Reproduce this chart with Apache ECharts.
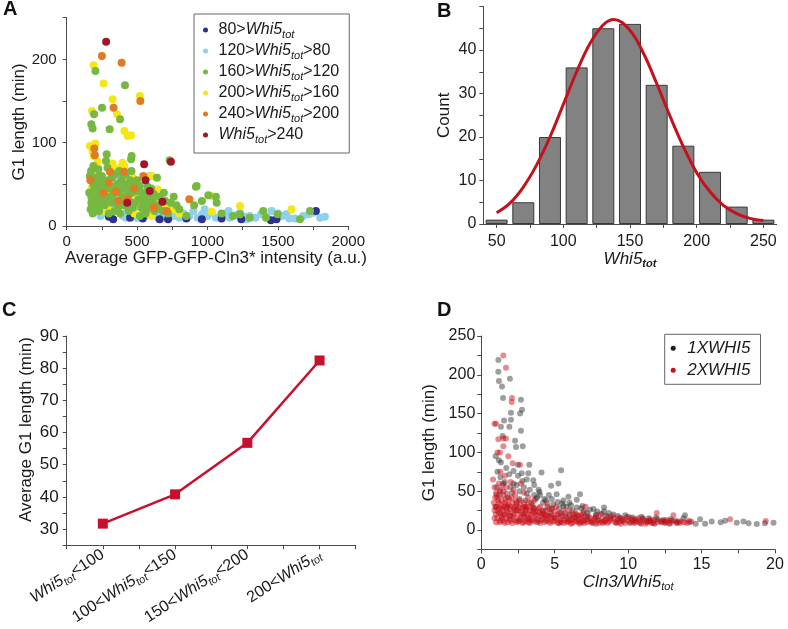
<!DOCTYPE html>
<html><head><meta charset="utf-8">
<script src="https://cdn.jsdelivr.net/npm/echarts@6/dist/echarts.min.js"></script>
<style>html,body{margin:0;padding:0;background:#fff}#c{width:788px;height:629px}</style>
</head><body><div id="c"></div>
<script>
// ---------- Panel A data: [intensity, G1 length] ----------
const aNames = ['80>Whi5_tot','120>Whi5_tot>80','160>Whi5_tot>120','200>Whi5_tot>160','240>Whi5_tot>200','Whi5_tot>240'];
const aDarkBlue = [[300,11],[330,8],[450,10],[540,9],[660,8],[720,8],[850,9],[960,8],[1100,9],[1240,8],[1450,7],[1490,8],[1770,18]];
const aLightBlue = [[190,60],[215,62],[230,55],[260,48],[300,45],[340,40],[360,55],[380,52],[200,40],[220,30],[250,22],[280,15],[310,12],[350,18],[400,12],[430,20],[460,15],[500,10],[520,28],[560,12],[590,60],[600,20],[620,15],[650,10],[690,14],[720,18],[760,12],[800,10],[830,15],[870,12],[900,18],[930,10],[960,14],[1000,12],[1030,16],[1060,10],[1100,12],[1130,15],[1160,10],[1200,13],[1230,16],[1260,11],[1300,12],[1340,10],[1380,14],[1420,11],[1455,18],[1500,15],[1530,12],[1580,9],[1621,9],[1680,12],[1720,14],[1750,16],[1800,10],[1834,11],[240,12],[330,25],[420,10],[480,22],[700,10],[980,20],[1150,18],[1280,8],[1560,14],[180,25],[210,18],[260,35],[290,28],[320,20],[370,30],[410,25],[450,38],[500,30],[540,20],[580,25],[620,30],[660,20],[740,25],[780,15]];
const aGreen = [[204,186],[414,169],[251,142],[194,134],[379,128],[175,122],[184,117],[305,116],[284,86],[461,84],[457,80],[279,78],[173,66],[374,66],[641,58],[232,51],[575,47],[918,47],[731,79],[165,60],[190,72],[210,58],[225,68],[250,60],[270,52],[290,70],[320,58],[345,62],[360,50],[390,55],[420,62],[440,48],[460,66],[500,55],[520,48],[540,40],[600,45],[620,38],[660,35],[700,30],[740,28],[780,25],[160,40],[175,35],[190,50],[205,25],[215,42],[235,30],[255,38],[270,25],[285,45],[305,35],[320,28],[335,45],[355,30],[370,40],[395,35],[410,25],[425,50],[445,30],[465,40],[485,28],[505,42],[530,22],[555,35],[570,20],[590,28],[625,18],[650,25],[680,18],[720,15],[170,20],[185,15],[200,30],[230,18],[260,28],[300,15],[340,18],[380,15],[440,18],[520,12],[560,15],[600,28],[800,20],[850,12],[905,25],[923,48],[960,30],[1006,37],[1065,28],[1100,15],[1180,12],[1231,14],[1300,10],[1396,18],[1415,10],[1498,14],[1657,8],[1728,18],[1060,35],[180,55],[195,45],[210,35],[225,22],[240,48],[265,42],[280,32],[295,55],[310,45],[330,38],[350,48],[365,22],[385,45],[400,60],[415,30],[430,42],[450,55],[470,22],[490,50],[510,32],[545,28],[580,38],[610,32],[640,22],[690,40],[760,35],[175,28],[230,60]];
const aYellow = [[191,193],[262,171],[326,152],[520,156],[180,138],[357,134],[409,114],[433,108],[457,109],[165,96],[203,99],[184,89],[191,84],[220,77],[326,75],[397,76],[409,72],[603,60],[243,47],[279,43],[646,44],[298,32],[200,65],[175,45],[230,35],[180,28],[350,68],[380,70],[420,40],[470,58],[500,35],[560,30],[520,25],[640,35],[700,22],[760,20],[800,15],[1029,36],[1029,17],[1231,24],[1597,20],[300,20],[250,18],[480,15],[600,12],[380,25]];
const aOrange = [[250,204],[390,196],[523,150],[333,142],[196,93],[168,55],[300,52],[307,65],[409,65],[544,60],[350,41],[480,45],[871,32],[369,30],[433,33],[200,85],[260,40],[620,22],[710,18]];
const aRed = [[280,221],[550,74],[740,77],[560,55],[590,42],[430,28],[680,29]];

// ---------- Panel B data: histogram of Whi5tot ----------
const bBinCenters = [50,70,90,110,130,150,170,190,210,230,250];
const bCounts = [1,5,20,36,45,46,32,18,12,4,1];
const bFitX = [50,60,70,80,90,100,110,120,130,138,150,160,170,180,190,200,210,220,230,240,250];
const bFitY = [2.6,4.8,8.5,13.6,20,27.5,35,41.5,45.8,47,44.5,39.3,32.3,24.8,17.8,11.8,7.4,4.3,2.4,1.3,0.8];

// ---------- Panel C data ----------
const cCategories = ['Whi5_tot<100','100<Whi5_tot<150','150<Whi5_tot<200','200<Whi5_tot'];
const cValues = [31.7,40.8,56.8,82.4];

// ---------- Panel D data: [Cln3/Whi5tot, G1 length] ----------
const dNames = ['1XWHI5','2XWHI5'];
const d1X = [[1.16,219],[1.16,204],[1.2,192],[1.95,195],[1.41,185],[1.48,170],[2.7,168],[2.77,155],[2.02,151],[2.64,150],[1.55,141],[2.02,142],[1.34,133],[1.91,133],[2.7,128],[1.45,121],[2.3,115],[2.36,107],[2.82,108],[0.98,95],[1.34,87],[3.27,84],[4.1,74],[5.43,77],[2.75,73],[3.2,73],[3.09,65],[3.54,64],[4.75,57],[5.25,60],[3.9,52],[3.96,49],[4.6,45],[5.13,46],[5.93,43],[6.72,46],[6.5,39],[5.59,38],[8.36,29],[7.63,27],[8.36,24],
[1.1,75],[1.3,68],[1.6,62],[1.9,72],[2.2,76],[2.5,70],[2.4,58],[2.9,55],[3.3,52],[3.6,45],[1.05,55],[1.25,45],[1.5,50],[1.8,42],[2.1,48],[2.6,40],[3.0,38],[3.4,35],[3.8,42],[4.2,35],[4.5,30],[4.9,33],[5.3,28],[5.8,30],[6.2,25],[6.8,28],[7.2,22],[7.8,20],[8.5,18],[9.0,20],[9.5,15],[10.0,17],[10.5,14],[11.0,15],[11.5,12],[12.0,14],[12.5,11],[13.0,12],[13.87,19],[13.76,15],[14.9,14],[15.69,11],[15.24,8],[16.3,10],[16.6,12],[17.4,9.5],[17.85,11],[18.2,8.6],[18.76,7.7],[19.32,8.6],[19.9,9.5],
[1.0,30],[1.2,22],[1.4,15],[1.7,28],[2.0,18],[2.3,25],[2.6,12],[2.9,20],[3.2,14],[3.5,24],[3.8,10],[4.1,18],[4.4,12],[4.7,22],[5.0,15],[5.4,10],[5.7,18],[6.0,12],[6.4,16],[6.8,10],[7.2,14],[7.6,9],[8.0,13],[8.4,11],[8.8,15],[9.2,9],[9.6,12],[10.2,10],[10.8,9],[11.3,11],[11.8,8],[12.3,10],[12.8,8],[13.3,9],[14.2,10],[14.6,8],[2.2,60],[2.8,63],[3.6,58],[4.3,40],[5.5,34],[6.1,32],[7.0,24],[1.7,80],[2.5,84],[1.2,90],
[1.5,60],[2.0,55],[2.6,50],[3.1,47],[3.7,40],[4.0,45],[4.4,38],[4.8,40],[5.2,36],[5.6,31],[6.0,35],[6.5,29],[6.9,31],[7.4,26],[7.9,24],[8.2,21],[8.7,22],[9.3,18],[9.8,19],[10.3,16],[10.9,17],[11.4,15],[11.9,16],[12.4,13],[12.9,14],[13.4,11],[2.4,35],[3.0,30],[3.6,28],[4.2,25],[4.8,27],[5.4,22],[6.0,20],[6.6,18],[7.2,17],[7.8,16]];
const d2X = [[1.5,225],[1.68,209],[2.09,170],[2.07,165],[1.0,137],[1.16,117],[1.5,118],[1.68,118],[1.5,108],[1.27,100],[1.84,95],[2.14,86],[2.63,84],[0.9,137],[1.1,100],
[0.8,65],[0.9,55],[1.0,48],[1.1,42],[1.2,60],[1.3,52],[1.4,38],[1.5,45],[1.6,35],[1.7,55],[1.8,30],[1.9,40],[2.0,62],[2.1,35],[2.2,28],[2.3,45],[2.4,32],[2.5,25],[2.6,38],[2.7,60],[2.8,28],[2.9,35],[3.0,22],[3.1,30],[3.2,42],[3.3,25],[3.4,20],[3.5,32],[3.7,18],[3.9,28],[4.0,22],[4.2,15],[4.4,25],[4.6,18],[4.8,28],[5.0,12],[5.2,20],[5.4,15],[5.6,25],[5.8,10],[6.0,18],[6.2,14],[6.4,22],[6.6,10],[6.8,16],[7.0,12],[7.1,30],[7.3,18],[7.5,10],[7.7,15],[7.9,12],[8.1,20],[8.3,9],[8.5,14],[8.7,11],[8.9,18],[9.1,10],[9.3,14],[9.5,8],[9.7,12],[9.9,16],[10.1,9],[10.3,13],[10.5,10],[10.7,15],[10.9,8],[11.1,12],[11.3,10],[11.5,14],[11.7,9],[11.95,22],[12.2,11],[12.5,9],[12.8,12],[13.08,19],[13.3,10],[13.6,11],[14.0,9],[14.3,11],[16.94,14],[19.37,11.6],
[0.85,35],[0.9,25],[0.95,42],[1.0,20],[1.05,30],[1.1,15],[1.15,38],[1.2,28],[1.25,10],[1.3,22],[1.35,32],[1.4,18],[1.45,26],[1.5,12],[1.55,30],[1.6,20],[1.65,40],[1.7,15],[1.75,24],[1.8,10],[1.85,33],[1.9,18],[1.95,27],[2.0,12],[2.1,22],[2.2,16],[2.3,30],[2.4,10],[2.5,20],[2.6,14],[2.7,24],[2.8,9],[2.9,17],[3.0,12],[3.1,26],[3.2,10],[3.3,16],[3.4,12],[3.6,22],[3.8,14],[4.0,9],[4.3,20],[4.6,11],[4.9,16],[5.3,9],[5.7,13],[6.1,8],[6.5,12],[7.0,9],[7.4,11],[7.8,8],[8.2,10],[1.3,75],[1.6,70],[2.2,52],[2.9,48],[3.6,38],[4.5,34],[5.1,30],[6.3,20],[6.9,22],[8.6,17],[9.4,16],[10.4,12],[11.6,11],[12.6,13],
[1.0,10],[1.1,25],[1.2,35],[1.3,12],[1.4,28],[1.5,20],[1.6,9],[1.7,33],[1.8,22],[1.9,14],[2.0,30],[2.1,9],[2.2,20],[2.3,13],[2.4,26],[2.5,11],[2.6,29],[2.7,16],[2.8,21],[2.9,10],[3.0,27],[3.1,15],[3.2,20],[3.3,9],[3.4,30],[3.5,14],[3.6,11],[3.7,25],[3.8,19],[3.9,12],[4.0,30],[4.1,13],[4.2,24],[4.3,10],[4.4,18],[4.5,14],[4.6,27],[4.7,9],[4.8,20],[4.9,11],[5.0,24],[5.1,16],[5.2,9],[5.3,21],[5.4,12],[5.5,18],[5.6,9],[5.7,22],[5.8,15],[5.9,11],[6.0,25],[6.1,14],[6.2,9],[6.3,17],[6.4,11],[6.5,20],[6.6,14],[6.7,8],[6.8,19],[6.9,12],[7.0,17],[7.2,10],[7.4,15],[7.6,12],[7.8,18],[8.0,9],[8.2,14],[8.4,12],[8.6,9],[8.8,13],[9.0,15],[9.2,11],[9.4,10],[9.6,14],[9.8,9],[10.0,12],[10.2,15],[10.4,9],[10.6,12],[10.8,11],[11.0,14],[11.2,8],[11.4,12],[11.6,9],[11.8,13],[12.0,10],[12.3,12],[12.6,10],[12.9,9],[13.2,12],[13.5,9],[13.8,10],[14.1,12],[0.9,15],[0.95,30],[1.05,45],[1.25,50],[1.45,58],[1.75,47],[2.05,42],[2.35,38],[2.65,33],[2.95,30],[3.25,35],[3.55,28],[3.85,24],[4.15,21],[4.45,19],[4.75,16]];

// ---------- helpers ----------
const FONT = '"Liberation Sans", Arial, Helvetica, sans-serif';
const TXT = '#1a1a1a', AX = '#4a4a4a';
function richSet(F) {
  const L = Math.round(F * 1.25);
  const base = {fontSize: F, fontFamily: FONT, color: TXT, lineHeight: L};
  return {
    n: Object.assign({}, base),
    i: Object.assign({}, base, {fontStyle: 'italic'}),
    s: {fontSize: Math.round(F * 0.66), fontFamily: FONT, color: TXT, fontStyle: 'italic', lineHeight: Math.round(F * 0.5), verticalAlign: 'bottom'},
    sb: {fontSize: Math.round(F * 0.66), fontFamily: FONT, color: TXT, fontStyle: 'italic', fontWeight: 'bold', lineHeight: Math.round(F * 0.5), verticalAlign: 'bottom'}
  };
}
function toRich(str, subKey) {
  const parts = str.split('Whi5_tot');
  const out = [];
  parts.forEach((p, k) => {
    if (p) out.push('{n|' + p + '}');
    if (k < parts.length - 1) out.push('{i|Whi5}{' + (subKey || 's') + '|tot}');
  });
  return out.join('');
}
function axisCommon(F) {
  return {
    axisLine: {show: true, onZero: false, lineStyle: {color: AX, width: 1}},
    axisTick: {show: true, length: 4, lineStyle: {color: AX}},
    splitLine: {show: false},
    axisLabel: {fontSize: F, fontFamily: FONT, color: TXT}
  };
}
function mk(base, extra) {
  const o = JSON.parse(JSON.stringify(base));
  for (const k in extra) {
    if (typeof extra[k] === 'object' && !Array.isArray(extra[k]) && o[k]) Object.assign(o[k], extra[k]);
    else o[k] = extra[k];
  }
  return o;
}

const aColors = ['#2e3192','#8fd0ea','#77b843','#f4e717','#e07b24','#a3162a'];
const aData = [aDarkBlue, aLightBlue, aGreen, aYellow, aOrange, aRed];
const aDrawOrder = [1, 0, 3, 2, 4, 5];

const chart = echarts.init(document.getElementById('c'), null, {renderer: 'canvas'});

const xAxes = [], yAxes = [];
// A
xAxes.push(mk(axisCommon(15), {gridIndex: 0, type: 'value', min: 0, max: 2000, interval: 250,
  name: 'Average GFP-GFP-Cln3* intensity (a.u.)', nameLocation: 'middle', nameGap: 20,
  nameTextStyle: {fontSize: 17, fontFamily: FONT, color: TXT, padding: [0, 0, 0, 17]},
  axisLabel: {margin: 8, formatter: v => (v % 500 === 0 ? String(v) : '')}}));
yAxes.push(mk(axisCommon(15), {gridIndex: 0, type: 'value', min: 0, max: 250, interval: 50,
  name: 'G1 length (min)', nameLocation: 'middle', nameGap: 38,
  nameTextStyle: {fontSize: 17, fontFamily: FONT, color: TXT},
  axisLabel: {margin: 10, formatter: v => (v % 100 === 0 ? String(v) : '')}}));
// B
xAxes.push(mk(axisCommon(16), {gridIndex: 1, type: 'value', min: 40, max: 260,
  name: '{i|Whi5}{sb|tot}', nameLocation: 'middle', nameGap: 24,
  nameTextStyle: {rich: richSet(17)},
  axisTick: {customValues: [50,75,100,125,150,175,200,225,250]},
  axisLabel: {margin: 10, customValues: [50,100,150,200,250]}}));
yAxes.push(mk(axisCommon(16), {gridIndex: 1, type: 'value', min: 0, max: 50, interval: 5,
  name: 'Count', nameLocation: 'middle', nameGap: 30,
  nameTextStyle: {fontSize: 17, fontFamily: FONT, color: TXT},
  axisLabel: {margin: 7, formatter: v => (v % 10 === 0 && v < 50 ? String(v) : '')}}));
// C
xAxes.push(mk(axisCommon(16), {gridIndex: 2, type: 'value', min: 0.5, max: 4.5, interval: 0.5,
  axisLabel: {margin: 8, rotate: 33, rich: richSet(16),
    formatter: v => (Number.isInteger(v) && v >= 1 && v <= cCategories.length ? toRich(cCategories[v - 1]) : '')}}));
yAxes.push(mk(axisCommon(17), {gridIndex: 2, type: 'value', min: 25, max: 90, interval: 5,
  name: 'Average G1 length (min)', nameLocation: 'middle', nameGap: 32,
  nameTextStyle: {fontSize: 17, fontFamily: FONT, color: TXT, padding: [0, 0, 0, 22]},
  axisLabel: {margin: 8, formatter: v => (v % 10 === 0 ? String(v) : '')}}));
// D
xAxes.push(mk(axisCommon(16), {gridIndex: 3, type: 'value', min: 0, max: 20, interval: 2.5,
  name: '{i|Cln3/Whi5}{s|tot}', nameLocation: 'middle', nameGap: 21,
  nameTextStyle: {rich: richSet(17)},
  axisLabel: {margin: 7, formatter: v => (v % 5 === 0 ? String(v) : '')}}));
yAxes.push(mk(axisCommon(16), {gridIndex: 3, type: 'value', min: -25, max: 250, interval: 25,
  name: 'G1 length (min)', nameLocation: 'middle', nameGap: 43,
  nameTextStyle: {fontSize: 17, fontFamily: FONT, color: TXT},
  axisLabel: {margin: 6, formatter: v => (v >= 0 && v % 50 === 0 ? String(v) : '')}}));

const series = [];
aDrawOrder.forEach(k => series.push({
  type: 'scatter', name: aNames[k], xAxisIndex: 0, yAxisIndex: 0, data: aData[k],
  symbol: 'circle', symbolSize: 8, itemStyle: {color: aColors[k], opacity: 1}, silent: true
}));
series.push({type: 'bar', name: 'count', xAxisIndex: 1, yAxisIndex: 1,
  data: bBinCenters.map((c, k) => [c, bCounts[k]]), barWidth: 22,
  itemStyle: {color: '#828282', borderColor: '#3a3a3a', borderWidth: 1}, silent: true});
series.push({type: 'line', name: 'fit', xAxisIndex: 1, yAxisIndex: 1,
  data: bFitX.map((x, k) => [x, bFitY[k]]), smooth: 0.4, symbol: 'none',
  lineStyle: {color: '#c3121e', width: 3}, silent: true});
series.push({type: 'line', name: 'avg', xAxisIndex: 2, yAxisIndex: 2,
  data: cValues.map((v, k) => [k + 1, v]), symbol: 'rect', symbolSize: 10,
  itemStyle: {color: '#c8102e'}, lineStyle: {color: '#c8102e', width: 2.5}, silent: true});
series.push({type: 'scatter', name: dNames[0], xAxisIndex: 3, yAxisIndex: 3, data: d1X,
  symbolSize: 6, itemStyle: {color: 'rgba(35,35,35,0.55)'}, silent: true});
series.push({type: 'scatter', name: dNames[1], xAxisIndex: 3, yAxisIndex: 3, data: d2X,
  symbolSize: 6, itemStyle: {color: 'rgba(205,10,20,0.6)'}, silent: true});

const panelLetter = (t, x, y) => ({type: 'text', left: x, top: y,
  style: {text: t, fontSize: 20, fontWeight: 'bold', fontFamily: FONT, fill: '#111'}});

chart.setOption({
  animation: false,
  backgroundColor: '#fff',
  grid: [
    {left: 66.7, top: 17.7, width: 281.6, height: 208.3},
    {left: 483.3, top: 6.5, width: 293.4, height: 217.5},
    {left: 66.7, top: 336, width: 289, height: 214.7},
    {left: 481.3, top: 336, width: 293.7, height: 213.4}
  ],
  xAxis: xAxes,
  yAxis: yAxes,
  legend: [
    {data: aNames.map((n, k) => ({name: n, itemStyle: {color: aColors[k], opacity: 1}})),
     orient: 'vertical', left: 194, top: 14, itemWidth: 16, itemHeight: 5, itemGap: 3,
     padding: [8, 10, 8, 9], borderColor: '#666', borderWidth: 1, icon: 'circle',
     formatter: n => toRich(n), textStyle: {rich: richSet(16)}, selectedMode: false},
    {data: dNames.map((n, k) => ({name: n, itemStyle: {color: k ? '#c8101e' : '#1a1a1a', opacity: 1}})),
     orient: 'vertical', left: 664.7, top: 334.3, itemWidth: 18, itemHeight: 5, itemGap: 2,
     padding: [4, 10, 4, 6], borderColor: '#666', borderWidth: 1, icon: 'circle',
     textStyle: {fontSize: 17, fontStyle: 'italic', fontFamily: FONT, color: TXT, lineHeight: 20}, selectedMode: false}
  ],
  graphic: [panelLetter('A', 3, -1), panelLetter('B', 437, 1), panelLetter('C', 2, 300), panelLetter('D', 437, 300)],
  series: series
});
</script></body></html>
